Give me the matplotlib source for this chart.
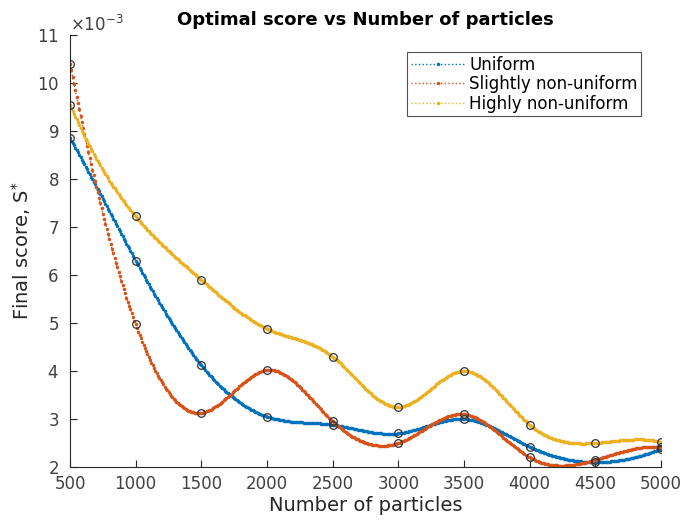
import numpy as np
import matplotlib
matplotlib.use('Agg')
import matplotlib.pyplot as plt
from matplotlib.ticker import ScalarFormatter

# donnees (score final, x 1e-3)
particles = [500, 1000, 1500, 2000, 2500, 3000, 3500, 4000, 4500, 5000]
uniform = [8.85, 6.30, 4.12, 3.05, 2.88, 2.70, 3.00, 2.42, 2.10, 2.38]
slightly = [10.40, 4.97, 3.13, 4.02, 2.95, 2.50, 3.10, 2.20, 2.15, 2.42]
highly = [9.55, 7.22, 5.90, 4.88, 4.30, 3.25, 4.00, 2.88, 2.50, 2.52]
labels = ['Uniform', 'Slightly non-uniform', 'Highly non-uniform']
colors = ['#0072BD', '#D95319', '#EDB120']


def spline_notaknot(x, y, xx):
    # spline cubique "not-a-knot" comme dans MATLAB
    x = np.asarray(x, float)
    y = np.asarray(y, float)
    n = len(x)
    h = np.diff(x)
    A = np.zeros((n, n))
    b = np.zeros(n)
    # conditions not-a-knot
    A[0, 0] = h[1]
    A[0, 1] = -(h[0] + h[1])
    A[0, 2] = h[0]
    A[-1, -3] = h[-1]
    A[-1, -2] = -(h[-2] + h[-1])
    A[-1, -1] = h[-2]
    for i in range(1, n - 1):
        A[i, i - 1] = h[i - 1]
        A[i, i] = 2 * (h[i - 1] + h[i])
        A[i, i + 1] = h[i]
        b[i] = 6 * ((y[i + 1] - y[i]) / h[i] - (y[i] - y[i - 1]) / h[i - 1])
    M = np.linalg.solve(A, b)
    idx = np.clip(np.searchsorted(x, xx) - 1, 0, n - 2)
    t0 = xx - x[idx]
    t1 = x[idx + 1] - xx
    hi = h[idx]
    return (M[idx] * t1**3 / (6 * hi) + M[idx + 1] * t0**3 / (6 * hi)
            + (y[idx] / hi - M[idx] * hi / 6) * t1
            + (y[idx + 1] / hi - M[idx + 1] * hi / 6) * t0)


xx = np.arange(500, 5001, 10)

fig = plt.figure(figsize=(6.82, 5.23), dpi=100)
ax = fig.add_axes([70 / 682, 56 / 523, 591 / 682, 432 / 523])

for serie, lab, col in zip([uniform, slightly, highly], labels, colors):
    yy = spline_notaknot(particles, serie, xx) * 1e-3
    ax.plot(xx, yy, ls=':', lw=1, marker='.', ms=5, mew=0, color=col,
            label=lab)

for serie in [uniform, slightly, highly]:
    ax.plot(particles, np.array(serie) * 1e-3, 'o', mfc='none', mec='#333333',
            ms=5.5, mew=0.9)

ax.set_xlim(500, 5000)
ax.set_ylim(2e-3, 11e-3)
ax.set_xticks(particles)
ax.set_yticks(np.arange(2, 12) * 1e-3)
fmt = ScalarFormatter(useMathText=True)
fmt.set_powerlimits((-3, -3))
ax.yaxis.set_major_formatter(fmt)
ax.yaxis.get_offset_text().set_color('#404040')
ax.yaxis.get_offset_text().set_fontsize(12)

for s in ['top', 'right']:
    ax.spines[s].set_visible(False)
for s in ['left', 'bottom']:
    ax.spines[s].set_color('#262626')
ax.tick_params(direction='in', length=5, colors='#262626', labelsize=12,
               labelcolor='#404040')
ax.tick_params(axis='y', pad=8)
ax.tick_params(axis='x', pad=6)

ax.set_title('Optimal score vs Number of particles', fontsize=13,
             fontweight='bold', pad=7)
ax.set_xlabel('Number of particles', fontsize=14, color='#262626', labelpad=2)
ax.set_ylabel('Final score, S$^{*}$', fontsize=14, color='#262626', labelpad=3)

leg = ax.legend(loc='upper right', bbox_to_anchor=(0.966, 0.96), numpoints=1,
                fancybox=False, edgecolor='#262626', fontsize=12,
                handlelength=3.3, borderpad=0.2, labelspacing=0.1,
                handletextpad=0.2, borderaxespad=0)
leg.get_frame().set_linewidth(0.8)
for h in leg.get_lines():
    h.set_markersize(5)

fig.savefig('out.png', dpi=100)
